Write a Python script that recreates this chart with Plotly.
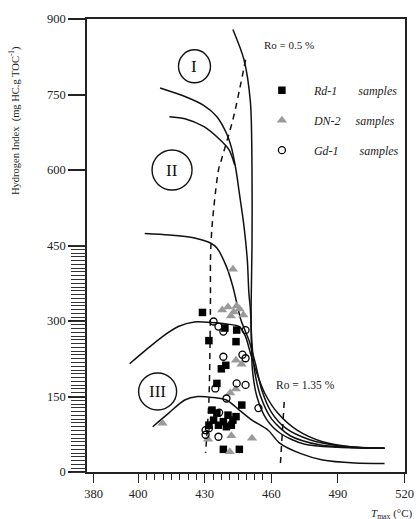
import plotly.graph_objects as go

# ---------------- data ----------------
x_ticks = [380, 400, 430, 460, 490, 520]
y_ticks = [0, 150, 300, 450, 600, 750, 900]

rd1_tmax = [429.0, 439.1, 444.4, 431.9, 444.1, 437.5, 439.5, 435.5, 446.7, 433.3, 435.5,
            434.0, 436.2, 438.4, 440.5, 442.7, 439.8, 444.1, 442.0, 431.9, 438.4, 445.6]
rd1_hi = [317, 286, 282, 261, 259, 205, 212, 176, 133, 123, 117,
          103, 93, 100, 113, 103, 90, 110, 93, 93, 45, 45]

dn2_tmax = [442.7, 437.9, 440.5, 443.1, 445.7, 447.4, 441.8, 444.4, 444.1, 446.6,
            441.5, 444.0, 451.3, 441.3, 411.0, 431.5, 442.0]
dn2_hi = [403, 322, 328, 318, 324, 312, 310, 330, 222, 214,
          157, 165, 67, 40, 97, 65, 72]

gd1_tmax = [434.0, 436.2, 438.4, 448.4, 438.4, 447.0, 448.4, 444.4, 448.4, 434.8,
            439.8, 454.2, 430.4, 430.4, 436.2, 431.9, 436.5]
gd1_hi = [299, 289, 279, 282, 229, 233, 226, 176, 173, 166,
          146, 127, 83, 74, 70, 87, 118]

# kerogen evolution curves
curve_a_tmax = [442.7, 447.7, 450.6, 451.3, 451.3, 450.9, 451.0, 451.5, 453.5, 457.8, 464.3, 475.1, 490.0, 511.0]
curve_a_hi = [879, 819, 734, 600, 450, 330, 260, 203, 150, 105, 76, 55, 49, 47]

curve_b_tmax = [409.9, 421.1, 429.7, 435.5, 439.8, 441.9, 444.1, 445.6, 447.7, 449.2, 449.9,
                450.6, 451.2, 452.4, 455.2, 460.2, 468.5, 481.6, 495.0, 511.0]
curve_b_hi = [763, 746, 728, 706, 673, 647, 600, 554, 488, 421, 355,
              322, 262, 203, 150, 105, 72, 54, 49, 47]

curve_c_tmax = [414.1, 421.1, 429.7, 436.9, 441.0, 443.5]
curve_c_hi = [706, 702, 686, 660, 640, 610]

curve_d_tmax = [403.0, 414.0, 425.4, 432.6, 435.5, 439.8, 442.7, 444.8, 446.3, 449.9,
                452.8, 455.7, 460.0, 466.5, 477.3, 490.3, 511.0]
curve_d_hi = [474, 471, 465, 455, 445, 408, 368, 329, 302, 262,
              216, 163, 119, 87, 64, 52, 47]

curve_e_tmax = [396.2, 403.7, 411.0, 418.1, 425.4, 432.6, 439.8, 445.6, 448.4, 450.6,
                453.5, 457.1, 462.9, 471.6, 483.1, 497.5, 511.0]
curve_e_hi = [215, 243, 269, 289, 298, 297, 294, 289, 269, 236,
              196, 156, 117, 83, 60, 49, 47]

curve_f_tmax = [406.6, 413.8, 421.0, 426.8, 434.0, 439.8, 445.6, 451.3, 458.6, 463.6,
                473.0, 483.1, 497.5, 511.0]
curve_f_hi = [90, 117, 143, 150, 148, 143, 123, 103, 83, 58, 37, 24, 18, 17]

ro05_tmax = [448.4, 445.7, 442.7, 437.5, 436.2, 433.3, 432.6, 432.6, 431.9, 430.4]
ro05_hi = [819, 760, 700, 620, 600, 488, 421, 342, 143, 38]

ro135_tmax = [465.8, 464.0]
ro135_hi = [139, 10]

type_labels = ["I", "II", "III"]
type_tmax = [425.4, 415.3, 408.8]
type_hi = [806, 600, 160]
type_w = [32, 40, 38]
type_h = [33, 40, 37]

minor_y = [i * 7.5 for i in range(61)]
minor_x = [400 + i * 3.75 for i in range(17)]

X_RANGE = [377, 520.2]
Y_RANGE = [0, 900]

FONT = "Liberation Serif, Times New Roman, serif"

fig = go.Figure()

line_style = dict(color="#111", width=1.5, shape="spline", smoothing=0.8)
for cx, cy in [(curve_a_tmax, curve_a_hi), (curve_b_tmax, curve_b_hi), (curve_c_tmax, curve_c_hi),
               (curve_d_tmax, curve_d_hi), (curve_e_tmax, curve_e_hi), (curve_f_tmax, curve_f_hi)]:
    fig.add_trace(go.Scatter(x=cx, y=cy, mode="lines", line=line_style, showlegend=False,
                             hoverinfo="skip"))

fig.add_trace(go.Scatter(x=ro05_tmax, y=ro05_hi, mode="lines", showlegend=False,
                         line=dict(color="#111", width=1.5, dash="6px,5px", shape="spline", smoothing=0.8)))
fig.add_trace(go.Scatter(x=ro135_tmax, y=ro135_hi, mode="lines", showlegend=False,
                         line=dict(color="#111", width=1.5, dash="6px,5px")))

sp = "\u00a0"
fig.add_trace(go.Scatter(x=rd1_tmax, y=rd1_hi, mode="markers", legendgroup="a",
                         name=f"{sp*4}<i>Rd-1</i>{sp*7}<i>samples</i>",
                         marker=dict(symbol="square", size=7.5, color="#000")))
fig.add_trace(go.Scatter(x=dn2_tmax, y=dn2_hi, mode="markers", legendgroup="b",
                         name=f"{sp*4}<i>DN-2</i>{sp*5}<i>samples</i>",
                         marker=dict(symbol="triangle-up", size=9, color="#9a9a9a")))
fig.add_trace(go.Scatter(x=gd1_tmax, y=gd1_hi, mode="markers", legendgroup="c",
                         name=f"{sp*4}<i>Gd-1</i>{sp*7}<i>samples</i>",
                         marker=dict(symbol="circle-open", size=7, color="#000", line=dict(width=1.3))))

# empty trace so the overlaid minor-tick axes are drawn
fig.add_trace(go.Scatter(x=[], y=[], xaxis="x2", yaxis="y2", showlegend=False, hoverinfo="skip"))

annotations = []
shapes = []
for lab, tx, hy, w, h in zip(type_labels, type_tmax, type_hi, type_w, type_h):
    shapes.append(dict(type="circle", xref="x", yref="y", xsizemode="pixel", ysizemode="pixel",
                       xanchor=tx, yanchor=hy, x0=-w / 2, x1=w / 2, y0=-h / 2, y1=h / 2,
                       line=dict(color="#111", width=1.4)))
    annotations.append(dict(x=tx, y=hy, xref="x", yref="y", text=lab, showarrow=False,
                            font=dict(family=FONT, size=17, color="#111")))

annotations.append(dict(x=455.7, y=849, xref="x", yref="y", text="Ro = 0.5 %", showarrow=False,
                        xanchor="left", yanchor="middle", font=dict(family=FONT, size=11, color="#222")))
annotations.append(dict(x=461.3, y=173, xref="x", yref="y", text="Ro = 1.35 %", showarrow=False,
                        xanchor="left", yanchor="middle", font=dict(family=FONT, size=11.5, color="#222")))
annotations.append(dict(x=-0.229, y=0.775, xref="paper", yref="paper", textangle=-90,
                        xanchor="center", yanchor="middle",
                        text="Hydrogen Index  (mg HC.g TOC<sup>-1</sup>)", showarrow=False,
                        font=dict(family=FONT, size=10.5, color="#222")))
annotations.append(dict(x=0.96, y=-0.093, xref="paper", yref="paper",
                        xanchor="center", yanchor="middle",
                        text="<i>T</i><sub>max</sub> (°C)", showarrow=False,
                        font=dict(family=FONT, size=11, color="#222")))

fig.update_layout(
    width=419, height=519,
    margin=dict(l=87, r=5, t=19, b=47),
    paper_bgcolor="white", plot_bgcolor="white",
    font=dict(family=FONT, size=12, color="#222"),
    shapes=shapes, annotations=annotations,
    legend=dict(x=0.55, y=0.875, xanchor="left", yanchor="top", bgcolor="rgba(0,0,0,0)",
                font=dict(family=FONT, size=12, color="#222"), tracegroupgap=11),
    xaxis=dict(range=X_RANGE, tickvals=x_ticks, ticks="outside", ticklen=9, tickwidth=1.3,
               tickcolor="#222", showline=True, linecolor="#222", linewidth=1.6, mirror=True,
               showgrid=False, zeroline=False, tickfont=dict(family=FONT, size=12.5),
               ticklabeloverflow="allow"),
    yaxis=dict(range=Y_RANGE, tickvals=y_ticks, ticks="outside", ticklen=17, tickwidth=1.5,
               tickcolor="#222", showline=True, linecolor="#222", linewidth=1.6, mirror=True,
               showgrid=False, zeroline=False, tickfont=dict(family=FONT, size=12.5)),
    xaxis2=dict(range=X_RANGE, overlaying="x", anchor="y", side="bottom", tickvals=minor_x,
                ticks="outside", ticklen=7, tickwidth=1.1, tickcolor="#222",
                showticklabels=False, showline=False, showgrid=False, zeroline=False),
    yaxis2=dict(range=Y_RANGE, overlaying="y", anchor="x", side="left", tickvals=minor_y,
                ticks="outside", ticklen=15, tickwidth=1, tickcolor="#333",
                showticklabels=False, showline=False, showgrid=False, zeroline=False),
)

fig.write_html("out.html", config={"displayModeBar": False},
               post_script="document.body.style.margin='0';document.body.style.overflow='hidden';")
